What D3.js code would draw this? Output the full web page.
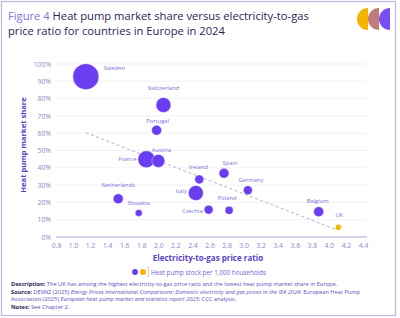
<!DOCTYPE html>
<html>
<head>
<meta charset="utf-8">
<script src="https://cdn.jsdelivr.net/npm/d3@7/dist/d3.min.js"></script>
<style>
  html, body { margin: 0; padding: 0; background: #fff; }
  svg { display: block; font-family: "Open Sans", sans-serif; }
</style>
</head>
<body>
<div id="chart"></div>
<script>
// data
var countries   = ["Sweden", "Switzerland", "Portugal", "France", "Austria", "Ireland", "Spain", "Germany", "Italy", "Netherlands", "Slovakia", "Czechia", "Poland", "Belgium", "UK"];
var priceRatio  = [1.15, 2.06, 1.98, 1.86, 2.00, 2.48, 2.77, 3.05, 2.44, 1.53, 1.77, 2.59, 2.83, 3.88, 4.11];
var marketShare = [92.7, 76.3, 61.7, 44.9, 44.0, 33.3, 36.8, 27.0, 25.4, 22.1, 13.9, 15.8, 15.4, 14.6, 5.6];
var hpStock     = [400, 133, 59, 171, 100, 48, 59, 48, 133, 59, 29, 48, 38, 59, 21];
var trendX = [1.15, 4.10];
var trendY = [60.3, 4.0];
var xTicks = [0.8, 1.0, 1.2, 1.4, 1.6, 1.8, 2.0, 2.2, 2.4, 2.6, 2.8, 3.0, 3.2, 3.4, 3.6, 3.8, 4.0, 4.2, 4.4];
var yTicks = [0, 10, 20, 30, 40, 50, 60, 70, 80, 90, 100];

// label placement (layout only): anchor, dx, dy from bubble centre
var labelPos = {
    "Sweden": ["start", 18, -7], "Switzerland": ["middle", 0, -15], "Portugal": ["middle", 1, -7],
    "France": ["end", -10, 2], "Austria": ["middle", 3, -9], "Ireland": ["middle", -1, -10],
    "Spain": ["middle", 6, -8], "Germany": ["middle", 3, -8], "Italy": ["end", -9, 0],
    "Netherlands": ["middle", 0, -12], "Slovakia": ["middle", 0, -8], "Czechia": ["end", -6, 3],
    "Poland": ["middle", -2, -10], "Belgium": ["middle", -1, -9], "UK": ["middle", 1, -10]
};

var W = 400, H = 318;
var purple = "#6a3ef0", gold = "#f4b400", navy = "#2b2456", soft = "#7c6fd8", tickCol = "#8c86c6";

var svg = d3.select("#chart").append("svg").attr("width", W).attr("height", H);

// frame
svg.append("rect").attr("x", 1.5).attr("y", 1.5).attr("width", 394).attr("height", 314)
    .attr("fill", "none").attr("stroke", "#bdb5e8").attr("stroke-width", 1.2);

// title
var title = svg.append("text").attr("x", 8).attr("y", 20).attr("font-size", 11.2).attr("fill", navy);
title.append("tspan").attr("fill", "#8a6ee0").text("Figure 4 ");
title.append("tspan").text("Heat pump market share versus electricity-to-gas");
svg.append("text").attr("x", 8).attr("y", 35).attr("font-size", 11.2).attr("fill", navy)
    .text("price ratio for countries in Europe in 2024");

// logo: three left half-discs
var logoCols = [gold, "#c27b7d", "#7a4df0"];
logoCols.forEach(function(c, i) {
    var cx = 368 + i * 11, cy = 19, r = 11;
    svg.append("path")
        .attr("d", "M" + cx + "," + (cy - r) + " A" + r + "," + r + " 0 0 0 " + cx + "," + (cy + r) + " Z")
        .attr("fill", c);
});

var x = d3.scaleLinear().domain([0.8, 4.4]).range([56, 363]);
var y = d3.scaleLinear().domain([0, 100]).range([237, 64]);
var r = d3.scaleSqrt().domain([0, 400]).range([0, 13]);

// gridlines
svg.append("g").selectAll("line").data(yTicks.slice(1)).join("line")
    .attr("x1", 56).attr("x2", 367)
    .attr("y1", function(d) { return y(d); }).attr("y2", function(d) { return y(d); })
    .attr("stroke", "#eeecf6").attr("stroke-width", 0.8);

// axes
var yAxis = svg.append("g").attr("transform", "translate(56,0)")
    .call(d3.axisLeft(y).tickValues(yTicks).tickSize(0).tickPadding(5).tickFormat(function(d) { return d + "%"; }));
yAxis.select(".domain").remove();
yAxis.selectAll("text").attr("fill", tickCol).attr("font-size", 6.8).attr("font-family", "Open Sans");

var xAxis = svg.append("g").attr("transform", "translate(0,237)")
    .call(d3.axisBottom(x).tickValues(xTicks).tickSize(0).tickPadding(6).tickFormat(d3.format(".1f")));
xAxis.select(".domain").attr("stroke", "#a9a3d4").attr("d", "M56,0H367");
xAxis.selectAll("text").attr("fill", tickCol).attr("font-size", 6.8).attr("font-family", "Open Sans");

svg.append("text").attr("x", 208).attr("y", 261).attr("text-anchor", "middle")
    .attr("font-size", 8).attr("font-weight", "bold").attr("fill", "#5a3fc4")
    .text("Electricity-to-gas price ratio");
svg.append("text").attr("transform", "translate(26,145) rotate(-90)").attr("text-anchor", "middle")
    .attr("font-size", 7.6).attr("font-weight", "bold").attr("fill", "#5a3fc4")
    .text("Heat pump market share");

// trend line
svg.append("line")
    .attr("x1", x(trendX[0])).attr("y1", y(trendY[0]))
    .attr("x2", x(trendX[1])).attr("y2", y(trendY[1]))
    .attr("stroke", "#b5b3c4").attr("stroke-width", 1).attr("stroke-dasharray", "3,2.5");

// bubbles
var pts = countries.map(function(c, i) {
    return { name: c, px: priceRatio[i], sh: marketShare[i], st: hpStock[i] };
});
svg.append("g").selectAll("circle").data(pts).join("circle")
    .attr("cx", function(d) { return x(d.px); })
    .attr("cy", function(d) { return y(d.sh); })
    .attr("r", function(d) { return r(d.st); })
    .attr("fill", function(d) { return d.name == "UK" ? gold : purple; })
    .attr("stroke", "#fff").attr("stroke-width", 0.4);

svg.append("g").selectAll("text").data(pts).join("text")
    .attr("x", function(d) { return x(d.px) + labelPos[d.name][1]; })
    .attr("y", function(d) { return y(d.sh) + labelPos[d.name][2]; })
    .attr("text-anchor", function(d) { return labelPos[d.name][0]; })
    .attr("font-size", 5.8).attr("fill", soft)
    .text(function(d) { return d.name; });

// legend
svg.append("circle").attr("cx", 135).attr("cy", 272).attr("r", 3).attr("fill", purple);
svg.append("circle").attr("cx", 143).attr("cy", 272).attr("r", 3).attr("fill", gold);
svg.append("path").attr("d", "M146.5,267.5H148.5V276.5H146.5").attr("fill", "none")
    .attr("stroke", "#b9b3d8").attr("stroke-width", 0.6);
svg.append("text").attr("x", 151).attr("y", 274.5).attr("font-size", 6.3).attr("fill", "#7a5fe0")
    .text("Heat pump stock per 1,000 households");

// footer notes
var notes = [
    [["Description: ", "b"], ["The UK has among the highest electricity-to-gas price ratio and the lowest heat pump market share in Europe.", ""]],
    [["Source: ", "b"], ["DESNZ (2025) ", ""], ["Energy Prices International Comparisons: Domestic electricity and gas prices in the IEA 2024", "i"], ["; European Heat Pump", ""]],
    [["Association (2025) ", ""], ["European heat pump market and statistics report 2025", "i"], ["; CCC analysis.", ""]],
    [["Notes: ", "b"], ["See Chapter 2.", ""]]
];
notes.forEach(function(line, i) {
    var t = svg.append("text").attr("x", 11).attr("y", 286 + i * 7.6).attr("font-size", 5.7).attr("fill", "#5b4fc0");
    line.forEach(function(p) {
        var s = t.append("tspan").text(p[0]);
        if (p[1] == "b") s.attr("font-weight", "bold").attr("fill", navy);
        if (p[1] == "i") s.attr("font-style", "italic");
    });
});
</script>
</body>
</html>
